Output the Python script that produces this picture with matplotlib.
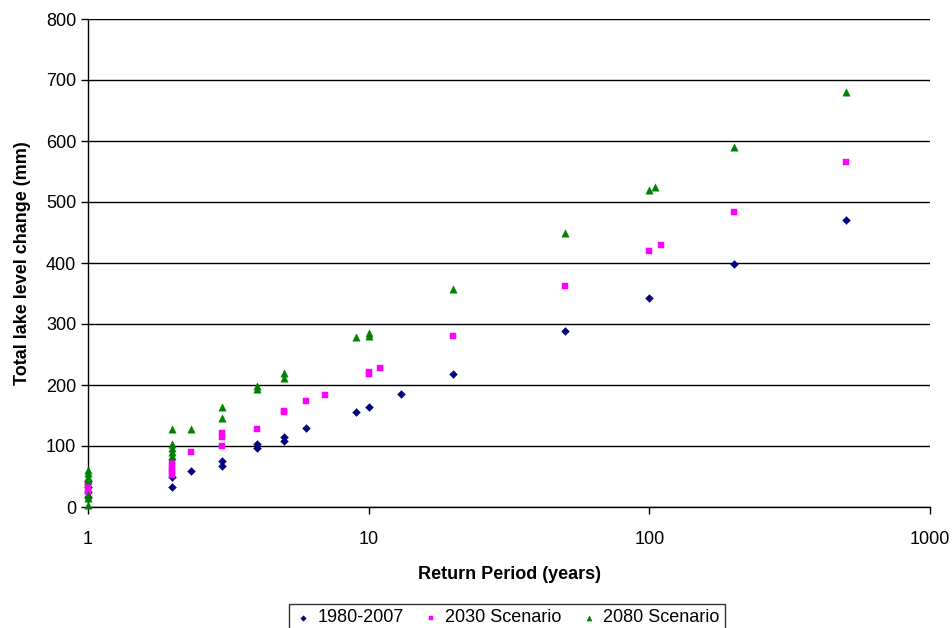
import matplotlib
matplotlib.use("Agg")
import matplotlib.pyplot as plt
from matplotlib.ticker import FixedLocator, NullLocator, FixedFormatter

plt.rcParams['font.family'] = ['Liberation Sans', 'DejaVu Sans']

# Return period (years) and total lake level change (mm)
base_x = [1, 1, 1, 1, 2, 2, 2.33, 3, 3, 4, 4, 5, 5, 6, 9, 10, 13, 20, 50, 100, 200, 500]
base_y = [16, 24, 33, 42, 33, 50, 59, 68, 75, 97, 103, 108, 115, 130, 156, 164, 185, 218, 288, 343, 398, 470]

s2030_x = [1, 1, 1, 2, 2, 2, 2, 2, 2.33, 3, 3, 3, 4, 5, 5, 6, 7, 10, 10, 11, 20, 50, 100, 110, 200, 500]
s2030_y = [25, 32, 38, 52, 58, 63, 68, 74, 90, 100, 114, 122, 128, 155, 158, 174, 184, 218, 222, 228, 280, 362, 420, 430, 483, 565]

s2080_x = [1, 1, 1, 1, 1, 1, 1, 2, 2, 2, 2, 2, 2.33, 3, 3, 4, 4, 5, 5, 9, 10, 10, 20, 50, 100, 105, 200, 500]
s2080_y = [4, 14, 20, 44, 50, 55, 60, 84, 90, 96, 103, 128, 128, 146, 164, 194, 198, 212, 220, 279, 281, 286, 358, 450, 520, 525, 590, 680]

series = [
    ("1980-2007", base_x, base_y, "D", "#000080", 16),
    ("2030 Scenario", s2030_x, s2030_y, "s", "#FF00FF", 22),
    ("2080 Scenario", s2080_x, s2080_y, "^", "#008000", 28),
]

fig = plt.figure(figsize=(9.52, 6.28), dpi=100)
ax = fig.add_axes([88 / 952, 1 - 507 / 628, (930 - 88) / 952, (507 - 19) / 628])

for label, xs, ys, mk, col, sz in series:
    ax.scatter(xs, ys, marker=mk, s=sz, color=col, edgecolors=col, linewidths=0.3,
               label=label, zorder=3, clip_on=False)

ax.set_xscale("log")
ax.set_xlim(1, 1000)
ax.set_ylim(0, 800)
ax.xaxis.set_major_locator(FixedLocator([1, 10, 100, 1000]))
ax.xaxis.set_major_formatter(FixedFormatter(["1", "10", "100", "1000"]))
ax.xaxis.set_minor_locator(NullLocator())
ax.set_yticks(range(0, 801, 100))

ax.grid(axis="y", color="black", linewidth=1.0, zorder=0)
ax.set_axisbelow(True)
for side in ("top", "right"):
    ax.spines[side].set_visible(False)
for side in ("left", "bottom"):
    ax.spines[side].set_color("#000000")
    ax.spines[side].set_linewidth(1.0)

ax.tick_params(axis="both", direction="out", length=5, width=1, labelsize=13, colors="black")
ax.tick_params(axis="x", pad=12)

ax.set_xlabel("Return Period (years)", fontsize=13, fontweight="bold", labelpad=13)
ax.set_ylabel("Total lake level change (mm)", fontsize=13, fontweight="bold", labelpad=11)

leg = fig.legend(loc="center", bbox_to_anchor=(507 / 952, 1 - 618 / 628), ncol=3,
                 frameon=True, fancybox=False, edgecolor="black", fontsize=13,
                 handletextpad=0.3, columnspacing=1.0, borderpad=0.3, handlelength=1.0,
                 markerscale=0.7)
leg.get_frame().set_linewidth(1.0)

fig.savefig("out.png", dpi=100)
